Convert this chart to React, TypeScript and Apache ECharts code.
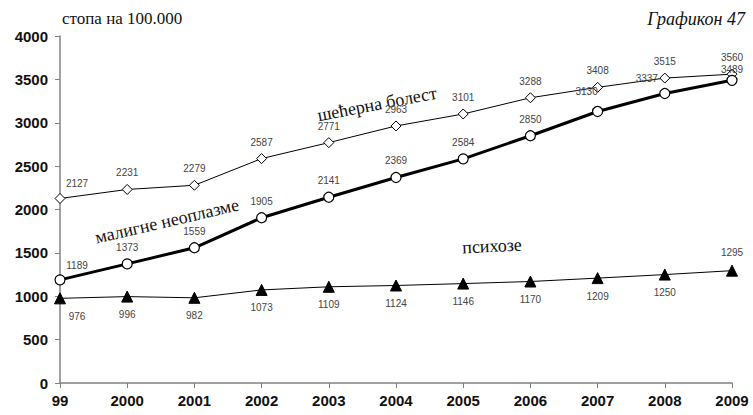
import React, { useEffect, useRef } from "react";
import * as echarts from "echarts";

const years = ["99", "2000", "2001", "2002", "2003", "2004", "2005", "2006", "2007", "2008", "2009"];
const diabetes = [2127, 2231, 2279, 2587, 2771, 2963, 3101, 3288, 3408, 3515, 3560];
const neoplasms = [1189, 1373, 1559, 1905, 2141, 2369, 2584, 2850, 3130, 3337, 3489];
const psychoses = [976, 996, 982, 1073, 1109, 1124, 1146, 1170, 1209, 1250, 1295];
const yTicks = [0, 500, 1000, 1500, 2000, 2500, 3000, 3500, 4000];

const labelFont = { fontFamily: "Liberation Sans", fontSize: 10, color: "#444" };
const serif = { fontFamily: "Liberation Serif", fontSize: 18, fill: "#111" };

export default function App() {
  const ref = useRef<HTMLDivElement>(null);
  useEffect(() => {
    const chart = echarts.init(ref.current!, null, { renderer: "svg" });
    const neoOffsets: Record<number, number[]> = { 0: [17, 2], 8: [-11, -3], 9: [-18, 2], 10: [0, 6] };
    chart.setOption({
      animation: false,
      grid: { left: 60, right: 21, top: 36, bottom: 32, containLabel: false },
      xAxis: {
        type: "category",
        data: years,
        boundaryGap: false,
        axisLine: { lineStyle: { color: "#808080", width: 1.5 } },
        axisTick: { show: true, length: 5, lineStyle: { color: "#808080" } },
        axisLabel: { fontFamily: "Liberation Sans", fontWeight: "bold", fontSize: 15, color: "#111", margin: 10 },
        splitLine: { show: false },
      },
      yAxis: {
        type: "value",
        min: yTicks[0],
        max: yTicks[yTicks.length - 1],
        interval: 500,
        axisLine: { show: true, lineStyle: { color: "#808080", width: 1.5 } },
        axisTick: { show: true, length: 5, lineStyle: { color: "#808080" } },
        axisLabel: {
          fontFamily: "Liberation Sans",
          fontWeight: "bold",
          fontSize: 15,
          color: "#111",
          margin: 12,
          formatter: (v: number) => String(v),
        },
        splitLine: { show: false },
      },
      series: [
        {
          name: "шећерна болест",
          type: "line",
          data: diabetes.map((v, i) => ({
            value: v,
            label: i === 0 ? { offset: [17, 2] } : undefined,
          })),
          symbol: "diamond",
          symbolSize: 10,
          lineStyle: { color: "#000", width: 1 },
          itemStyle: { color: "#fff", borderColor: "#000", borderWidth: 1 },
          label: { show: true, position: "top", distance: 6, ...labelFont },
          z: 2,
        },
        {
          name: "малигне неоплазме",
          type: "line",
          data: neoplasms.map((v, i) => ({
            value: v,
            label: neoOffsets[i] ? { offset: neoOffsets[i] } : undefined,
          })),
          symbol: "circle",
          symbolSize: 10,
          lineStyle: { color: "#000", width: 3 },
          itemStyle: { color: "#fff", borderColor: "#000", borderWidth: 1.2 },
          label: { show: true, position: "top", distance: 6, ...labelFont },
          z: 3,
        },
        {
          name: "психозе",
          type: "line",
          data: psychoses.map((v, i) => ({
            value: v,
            label: i === psychoses.length - 1 ? { position: "top" } : i === 0 ? { offset: [17, 0] } : undefined,
          })),
          symbol: "triangle",
          symbolSize: 11,
          lineStyle: { color: "#000", width: 1 },
          itemStyle: { color: "#000", borderColor: "#000" },
          label: { show: true, position: "bottom", distance: 7, ...labelFont },
          z: 2,
        },
      ],
      graphic: [
        {
          type: "text",
          left: 62,
          top: 10,
          style: { text: "стопа на 100.000", ...serif, fontSize: 17 },
        },
        {
          type: "text",
          right: 8,
          top: 10,
          style: { text: "Графикон 47", ...serif, fontStyle: "italic" },
        },
        {
          type: "text",
          x: 377,
          y: 104,
          rotation: 0.19,
          style: { text: "шећерна болест", ...serif, align: "center", verticalAlign: "middle" },
        },
        {
          type: "text",
          x: 167,
          y: 221,
          rotation: 0.23,
          style: { text: "малигне неоплазме", ...serif, align: "center", verticalAlign: "middle" },
        },
        {
          type: "text",
          x: 492,
          y: 246,
          rotation: 0.05,
          style: { text: "психозе", ...serif, align: "center", verticalAlign: "middle" },
        },
      ],
    });
    return () => chart.dispose();
  }, []);
  return <div ref={ref} style={{ width: 753, height: 415, position: "absolute", left: 0, top: 0 }} />;
}
